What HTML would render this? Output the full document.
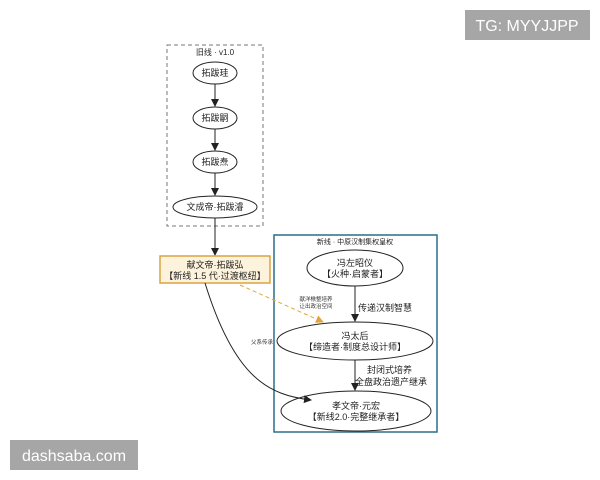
<!DOCTYPE html>
<html><head><meta charset="utf-8"><style>
html,body{margin:0;padding:0;background:#fff;}
svg{display:block;font-family:"Liberation Sans","Noto Sans CJK SC",sans-serif;}
</style></head><body>
<svg width="600" height="480" viewBox="0 0 600 480" xmlns="http://www.w3.org/2000/svg">
<defs>
<marker id="a" markerWidth="8" markerHeight="8" refX="7" refY="4" orient="auto" markerUnits="userSpaceOnUse"><path d="M0,0 L8,4 L0,8 z" fill="#222"/></marker>
<marker id="o" markerWidth="8" markerHeight="8" refX="7" refY="4" orient="auto" markerUnits="userSpaceOnUse"><path d="M0,0 L8,4 L0,8 z" fill="#e0a43a"/></marker>
</defs>
<rect width="600" height="480" fill="#fff"/>
<!-- old line box -->
<rect x="167" y="45" width="96" height="181" fill="none" stroke="#777" stroke-dasharray="4,3"/>
<text x="215" y="55" font-size="8" text-anchor="middle" fill="#222">旧线 · v1.0</text>
<g fill="#fff" stroke="#222" stroke-width="1">
<ellipse cx="215" cy="73" rx="22" ry="11"/>
<ellipse cx="215" cy="118" rx="22" ry="11"/>
<ellipse cx="215" cy="162" rx="22" ry="11"/>
<ellipse cx="215" cy="207" rx="42" ry="11"/>
</g>
<g font-size="9" text-anchor="middle" fill="#222">
<text x="215" y="76">拓跋珪</text>
<text x="215" y="121">拓跋嗣</text>
<text x="215" y="165">拓跋焘</text>
<text x="215" y="210">文成帝·拓跋濬</text>
</g>
<g stroke="#222" fill="none">
<line x1="215" y1="84" x2="215" y2="106" marker-end="url(#a)"/>
<line x1="215" y1="129" x2="215" y2="150" marker-end="url(#a)"/>
<line x1="215" y1="173" x2="215" y2="195" marker-end="url(#a)"/>
<line x1="215" y1="218" x2="215" y2="255" marker-end="url(#a)"/>
</g>
<!-- orange box -->
<rect x="160" y="256" width="110" height="27" fill="#fdf3dc" stroke="#d9a441" stroke-width="1.5"/>
<text x="215" y="268" font-size="9" text-anchor="middle" fill="#222">献文帝·拓跋弘</text>
<text x="215" y="279" font-size="9" text-anchor="middle" fill="#222">【新线 1.5 代·过渡枢纽】</text>
<!-- new line box -->
<rect x="274" y="235" width="163" height="197" fill="none" stroke="#2b6f8a" stroke-width="1.5"/>
<text x="355" y="244" font-size="7" text-anchor="middle" fill="#222">新线 · 中原汉制集权皇权</text>
<g fill="#fff" stroke="#222">
<ellipse cx="355" cy="268" rx="48" ry="18"/>
<ellipse cx="355" cy="341" rx="78" ry="19"/>
<ellipse cx="356" cy="411" rx="75" ry="20"/>
</g>
<g font-size="9" text-anchor="middle" fill="#222">
<text x="355" y="266">冯左昭仪</text>
<text x="355" y="277">【火种·启蒙者】</text>
<text x="355" y="339">冯太后</text>
<text x="355" y="350">【缔造者·制度总设计师】</text>
<text x="356" y="409">孝文帝·元宏</text>
<text x="356" y="420">【新线2.0·完整继承者】</text>
</g>
<g stroke="#222" fill="none">
<line x1="355" y1="286" x2="355" y2="321" marker-end="url(#a)"/>
<line x1="355" y1="360" x2="355" y2="390" marker-end="url(#a)"/>
<path d="M205,283 C235,380 270,395 311,400" marker-end="url(#a)"/>
</g>
<line x1="240" y1="285" x2="323" y2="322" stroke="#e0a43a" stroke-dasharray="4,3" marker-end="url(#o)"/>
<g font-size="9" fill="#222">
<text x="358" y="311">传递汉制智慧</text>
<text x="367" y="373">封闭式培养</text>
<text x="355" y="385">全盘政治遗产继承</text>
</g>
<g font-size="5.5" fill="#333" text-anchor="middle">
<text x="316" y="301">献洋楸整培养</text>
<text x="316" y="308">让出政治空间</text>
<text x="262" y="344">父系传承</text>
</g>
<!-- watermarks -->
<rect x="465" y="10" width="125" height="30" fill="#a6a6a6"/>
<text x="527" y="31" font-size="16" text-anchor="middle" fill="#fff">TG: MYYJJPP</text>
<rect x="10" y="440" width="128" height="30" fill="#a6a6a6"/>
<text x="74" y="461" font-size="16" text-anchor="middle" fill="#fff">dashsaba.com</text>
</svg>
</body></html>
